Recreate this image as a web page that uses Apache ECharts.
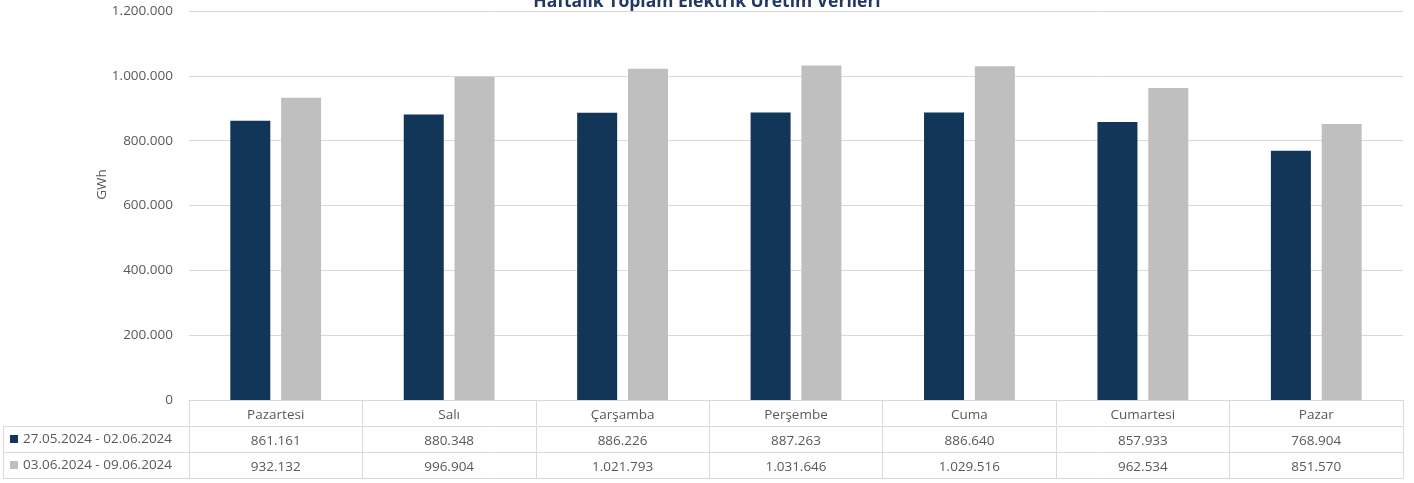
<!DOCTYPE html>
<html>
<head>
<meta charset="utf-8">
<script src="https://cdn.jsdelivr.net/npm/echarts@6/dist/echarts.min.js"></script>
<style>
  html, body { margin: 0; padding: 0; background: #fff; }
  #chart { width: 1414px; height: 483px; }
</style>
</head>
<body>
<div id="chart"></div>
<script>
var days = ['Pazartesi', 'Salı', 'Çarşamba', 'Perşembe', 'Cuma', 'Cumartesi', 'Pazar'];
var week1Name = '27.05.2024 - 02.06.2024';
var week2Name = '03.06.2024 - 09.06.2024';
var week1 = [861161, 880348, 886226, 887263, 886640, 857933, 768904];
var week2 = [932132, 996904, 1021793, 1031646, 1029516, 962534, 851570];

var font = 'Open Sans';
var fs = 13.5;
var textColor = '#595959';
var lineColor = '#d9d9d9';

// binlik ayraç olarak nokta
function fmt(v) {
  return String(v).replace(/\B(?=(\d{3})+(?!\d))/g, '.');
}

var chart = echarts.init(document.getElementById('chart'));

function rowAxis(offset, labelFn, tickLen) {
  return {
    type: 'category',
    gridIndex: 0,
    position: 'bottom',
    offset: offset,
    data: days,
    boundaryGap: true,
    axisLine: { show: true, lineStyle: { color: lineColor, width: 1 } },
    axisTick: { show: tickLen > 0, length: tickLen, inside: false, lineStyle: { color: lineColor } },
    axisLabel: {
      show: !!labelFn,
      margin: 8,
      color: textColor,
      fontFamily: font,
      fontSize: fs,
      formatter: labelFn || function() { return ''; }
    },
    splitLine: { show: false }
  };
}

function legendRow(name, top) {
  return {
    data: [name],
    orient: 'vertical',
    left: 10,
    top: top,
    itemWidth: 8,
    itemHeight: 8,
    itemGap: 0,
    icon: 'rect',
    padding: 0,
    textStyle: { color: textColor, fontSize: fs, fontFamily: font, padding: [0, 0, 0, 0] }
  };
}

chart.setOption({
  animation: false,
  textStyle: { fontFamily: font },
  title: {
    text: 'Haftalık Toplam Elektrik Üretim Verileri',
    left: 'center',
    top: -7,
    padding: 0,
    textStyle: { color: '#1f3864', fontSize: 17.5, fontWeight: 'bold', fontFamily: font }
  },
  legend: [
    legendRow(week1Name, 432),
    legendRow(week2Name, 458)
  ],
  grid: { left: 189, right: 11, top: 11, bottom: 83, containLabel: false },
  xAxis: [
    rowAxis(0, function(v) { return v; }, 25),
    rowAxis(26, function(v, i) { return fmt(week1[i]); }, 26),
    rowAxis(52, function(v, i) { return fmt(week2[i]); }, 26),
    rowAxis(78, null, 0)
  ],
  yAxis: {
    type: 'value',
    min: 0,
    max: 1200000,
    interval: 200000,
    name: 'GWh',
    nameLocation: 'middle',
    nameRotate: 90,
    nameGap: 80,
    nameMoveOverlap: false,
    nameTextStyle: { color: textColor, fontSize: fs, fontFamily: font, padding: [0, 0, 0, 42] },
    axisLine: { show: false },
    axisTick: { show: false },
    axisLabel: {
      margin: 16,
      color: textColor,
      fontSize: fs,
      fontFamily: font,
      formatter: function(v) { return fmt(v); }
    },
    splitLine: { lineStyle: { color: lineColor, width: 1 } }
  },
  series: [
    {
      name: week1Name,
      type: 'bar',
      xAxisIndex: 0,
      data: week1,
      barWidth: 40,
      barGap: '27%',
      itemStyle: { color: '#113657' }
    },
    {
      name: week2Name,
      type: 'bar',
      xAxisIndex: 0,
      data: week2,
      barWidth: 40,
      barGap: '27%',
      itemStyle: { color: '#bfbfbf' }
    }
  ],
  graphic: [
    // sol sütun çerçevesi
    { type: 'line', shape: { x1: 3, y1: 426.5, x2: 189, y2: 426.5 }, style: { stroke: lineColor, lineWidth: 1 } },
    { type: 'line', shape: { x1: 3, y1: 452.5, x2: 189, y2: 452.5 }, style: { stroke: lineColor, lineWidth: 1 } },
    { type: 'line', shape: { x1: 3, y1: 478.5, x2: 189, y2: 478.5 }, style: { stroke: lineColor, lineWidth: 1 } },
    { type: 'line', shape: { x1: 3.5, y1: 426, x2: 3.5, y2: 479 }, style: { stroke: lineColor, lineWidth: 1 } }
  ]
});

window.addEventListener('resize', function() {
  chart.resize();
});
</script>
</body>
</html>
